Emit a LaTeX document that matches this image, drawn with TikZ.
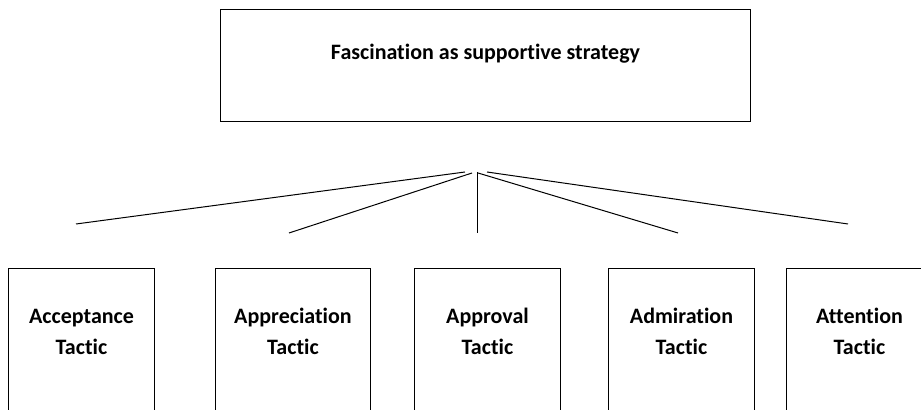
\documentclass[tikz,border=0pt]{standalone}
\usepackage{fontspec}
\setmainfont{Carlito}[Ligatures=NoCommon]
\usetikzlibrary{positioning}
\tikzset{
topbox/.style = {draw, rectangle, anchor=north west, inner sep=0pt, minimum width=265pt, align=center, text height=25pt, text depth=31pt},
tactic/.style = {draw, rectangle, inner sep=0pt, minimum width=73pt, text height=43.25pt, text depth=44.5pt, align=center},
tmp/.style    = {coordinate}
}

\begin{document}
\begin{tikzpicture}[x=0.5pt, y=-0.5pt, line width=0.5pt, font=\fontsize{11}{15.5}\selectfont\bfseries]
  \clip (0,0) rectangle (921,410);

  \node [topbox] at (220,9)                             (strategy)    {Fascination as supportive strategy};
  \node [tactic, anchor=north west] at (8,268)          (acceptance)  {Acceptance\\Tactic};
  \node [tactic, minimum width=77.5pt, right=30pt of acceptance] (appreciation) {Appreciation\\Tactic};
  \node [tactic, right=21.5pt of appreciation]          (approval)    {Approval\\Tactic};
  \node [tactic, right=23.5pt of approval]              (admiration)  {Admiration\\Tactic};
  \node [tactic, right=15.5pt of admiration]            (attention)   {Attention\\Tactic};

  % fan of lines under the strategy box
  \node [tmp] at (465,172) (apexa) {};
  \node [tmp] at (472,173) (apexb) {};
  \node [tmp] at (477,172) (apexc) {};
  \node [tmp] at (478,173) (apexd) {};
  \node [tmp] at (487,172) (apexe) {};
  \node [tmp] at (76,224)  (enda)  {};
  \node [tmp] at (289,233) (endb)  {};
  \node [tmp] at (477,233) (endc)  {};
  \node [tmp] at (678,233) (endd)  {};
  \node [tmp] at (848,224) (ende)  {};

  \foreach \t in {a,b,c,d,e}
    \draw (apex\t) -- (end\t);
\end{tikzpicture}
\end{document}
